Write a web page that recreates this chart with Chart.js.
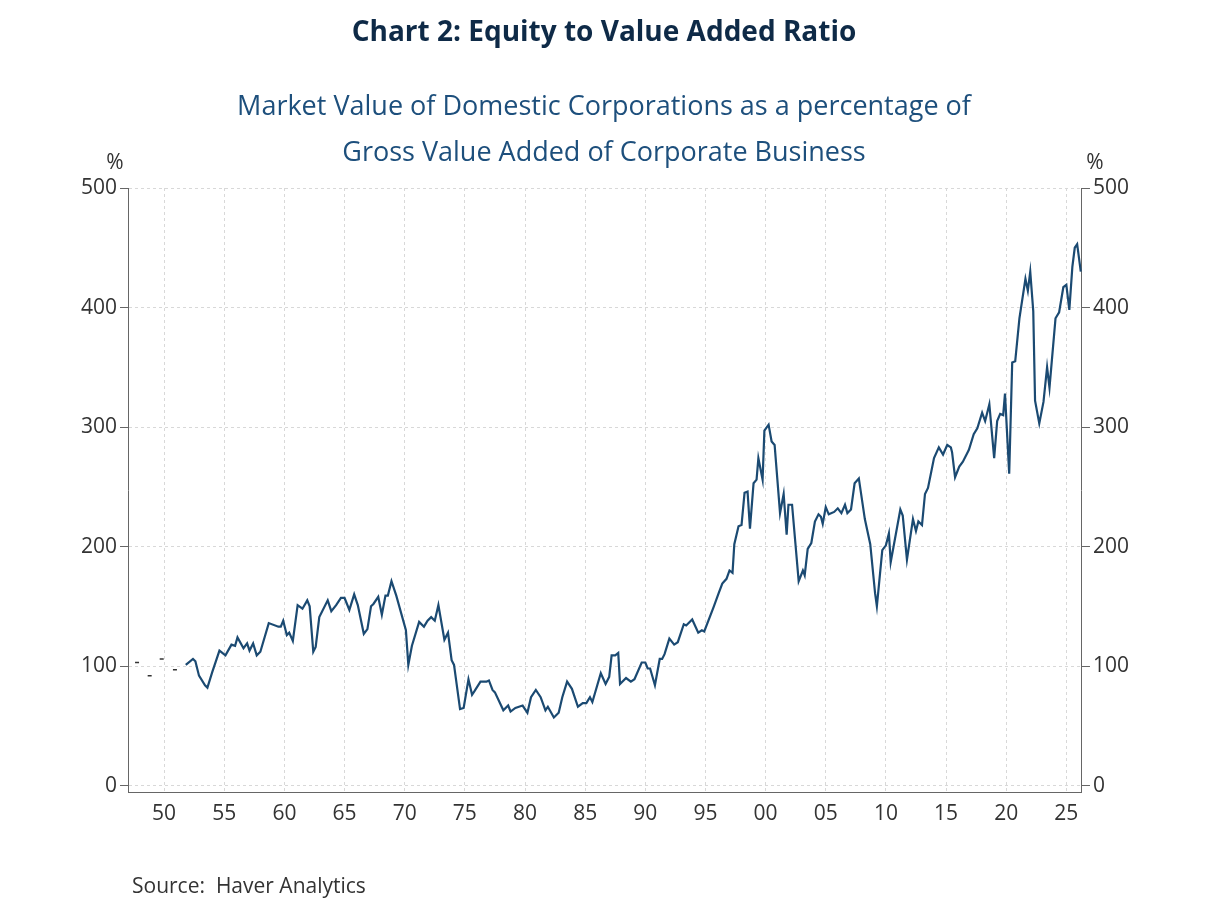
<!DOCTYPE html>
<html>
<head>
<meta charset="utf-8">
<script src="https://cdn.jsdelivr.net/npm/chart.js@4"></script>
<style>
  body { margin: 0; background: #fff; }
  #wrap { position: relative; width: 1208px; height: 906px; }
  canvas { position: absolute; left: 0; top: 0; }
</style>
</head>
<body>
<div id="wrap"><canvas id="equityChart" width="1208" height="906"></canvas></div>
<script>
// quarterly-ish readings: [year, percent]
const years = [
  1951.8, 1952.4, 1952.6, 1952.9, 1953.4, 1953.6, 1954.0, 1954.6, 1955.1, 1955.6, 1955.9, 1956.1,
  1956.6, 1956.9, 1957.1, 1957.4, 1957.7, 1958.0, 1958.7, 1959.5, 1959.7, 1959.9, 1960.2, 1960.4,
  1960.7, 1961.1, 1961.5, 1961.9, 1962.1, 1962.4, 1962.6, 1962.9, 1963.6, 1963.9, 1964.3, 1964.7,
  1965.0, 1965.4, 1965.8, 1966.1, 1966.6, 1966.9, 1967.2, 1967.4, 1967.8, 1968.1, 1968.4, 1968.6,
  1968.9, 1969.3, 1970.1, 1970.3, 1970.6, 1971.2, 1971.6, 1971.9, 1972.2, 1972.5, 1972.8, 1973.3,
  1973.6, 1973.9, 1974.1, 1974.6, 1974.9, 1975.3, 1975.6, 1975.8, 1976.3, 1976.8, 1977.0, 1977.3,
  1977.5, 1978.2, 1978.6, 1978.8, 1979.2, 1979.5, 1979.8, 1980.2, 1980.5, 1980.9, 1981.3, 1981.7,
  1981.9, 1982.4, 1982.8, 1983.1, 1983.5, 1983.9, 1984.4, 1984.8, 1985.1, 1985.4, 1985.6, 1986.3,
  1986.7, 1987.0, 1987.2, 1987.5, 1987.75, 1987.9, 1988.4, 1988.8, 1989.1, 1989.7, 1990.0, 1990.2,
  1990.4, 1990.8, 1991.2, 1991.4, 1991.6, 1992.0, 1992.4, 1992.7, 1993.2, 1993.4, 1993.9, 1994.4,
  1994.7, 1994.9, 1995.7, 1996.1, 1996.4, 1996.75, 1997.0, 1997.25, 1997.4, 1997.75, 1998.0, 1998.25,
  1998.5, 1998.7, 1999.0, 1999.25, 1999.4, 1999.75, 1999.9, 2000.25, 2000.5, 2000.75, 2001.2, 2001.5,
  2001.75, 2001.9, 2002.2, 2002.75, 2003.1, 2003.25, 2003.5, 2003.8, 2004.1, 2004.4, 2004.6, 2004.75,
  2005.0, 2005.25, 2005.7, 2006.0, 2006.3, 2006.6, 2006.8, 2007.1, 2007.4, 2007.75, 2008.25, 2008.7,
  2009.1, 2009.25, 2009.7, 2010.0, 2010.25, 2010.4, 2011.2, 2011.4, 2011.75, 2012.25, 2012.5, 2012.7,
  2013.0, 2013.25, 2013.5, 2014.0, 2014.4, 2014.75, 2015.1, 2015.4, 2015.5, 2015.75, 2016.1, 2016.4,
  2016.9, 2017.3, 2017.6, 2018.0, 2018.25, 2018.6, 2019.0, 2019.25, 2019.5, 2019.75, 2019.9, 2020.25,
  2020.5, 2020.75, 2021.1, 2021.6, 2021.8, 2022.0, 2022.25, 2022.4, 2022.75, 2023.1, 2023.4, 2023.6,
  2024.1, 2024.4, 2024.75, 2025.0, 2025.25, 2025.5, 2025.7, 2025.9, 2026.2
];
const ratio = [
  101, 106, 104, 92, 84, 82, 95, 113, 109, 118, 117, 124,
  115, 119, 113, 119, 109, 112, 136, 133, 133, 138, 126, 128,
  121, 151, 148, 155, 150, 112, 116, 141, 155, 146, 151, 157,
  157, 147, 160, 151, 127, 131, 150, 152, 158, 143, 159, 159,
  171, 159, 130, 101, 117, 137, 133, 138, 141, 138, 151, 122,
  128, 105, 101, 64, 65, 89, 76, 79, 87, 87, 88, 80,
  78, 63, 67, 62, 65, 66, 67, 61, 74, 80, 74, 63,
  66, 57, 61, 74, 87, 81, 66, 69, 69, 74, 70, 94,
  85, 91, 109, 109, 111, 85, 90, 87, 89, 103, 103, 98,
  98, 84, 106, 106, 110, 123, 118, 120, 135, 134, 139, 128,
  130, 129, 150, 161, 169, 173, 180, 178, 202, 217, 218, 245,
  246, 215, 253, 256, 274, 256, 297, 302, 288, 285, 228, 244,
  210, 235, 235, 171, 180, 176, 198, 203, 221, 227, 225, 219,
  233, 227, 229, 232, 228, 235, 228, 231, 253, 257, 223, 202,
  161, 150, 197, 201, 211, 187, 231, 226, 189, 223, 213, 221,
  218, 244, 249, 274, 283, 277, 285, 283, 279, 258, 267, 271,
  281, 294, 299, 312, 305, 319, 274, 305, 311, 310, 328, 261,
  354, 355, 391, 424, 414, 430, 397, 322, 303, 321, 350, 333,
  391, 396, 417, 419, 398, 434, 450, 453, 430
];
// isolated early readings shown as dashes
const earlyYears = [1947.75, 1948.8, 1949.8, 1950.9];
const earlyRatio = [103, 92, 106, 97];

const yTicks = [0, 100, 200, 300, 400, 500];
const xTicks = [1950, 1955, 1960, 1965, 1970, 1975, 1980, 1985, 1990, 1995, 2000, 2005, 2010, 2015, 2020, 2025];

const navy = '#1b4a72';
const tickFont = { family: "'Open Sans', 'Noto Sans', sans-serif", size: 21 };

const textPlugin = {
    id: 'texts',
    afterDraw(chart) {
        const ctx = chart.ctx;
        ctx.save();
        ctx.textAlign = 'center';
        ctx.textBaseline = 'middle';
        ctx.fillStyle = '#0e2a47';
        ctx.font = "bold 28px 'Open Sans', 'Noto Sans', sans-serif";
        ctx.fillText('Chart 2: Equity to Value Added Ratio', 604, 33);
        ctx.fillStyle = '#1d4f7c';
        ctx.font = "27px 'Open Sans', 'Noto Sans', sans-serif";
        ctx.fillText('Market Value of Domestic Corporations as a percentage of', 604, 107);
        ctx.fillText('Gross Value Added of Corporate Business', 604, 153);
        ctx.fillStyle = '#333';
        ctx.font = "21px 'Open Sans', 'Noto Sans', sans-serif";
        ctx.fillText('%', 115, 163);
        ctx.fillText('%', 1095, 163);
        ctx.textAlign = 'left';
        ctx.fillText('Source:  Haver Analytics', 132, 887);
        ctx.restore();
    }
};

const fixedTicks = (vals) => (scale) => { scale.ticks = vals.map(v => ({ value: v })); };

new Chart(document.getElementById('equityChart'), {
    type: 'scatter',
    data: {
        datasets: [{
            data: years.map((x, i) => ({ x: x, y: ratio[i] })),
            showLine: true,
            borderColor: navy,
            borderWidth: 2.2,
            pointRadius: 0,
            tension: 0
        }, {
            data: earlyYears.map((x, i) => ({ x: x, y: earlyRatio[i] })),
            showLine: false,
            pointStyle: 'line',
            pointRadius: 2,
            borderColor: '#333',
            borderWidth: 1.5
        }]
    },
    options: {
        responsive: false,
        animation: false,
        layout: { padding: { top: 188, left: 78, right: 76, bottom: 76 } },
        plugins: { legend: { display: false }, tooltip: { enabled: false } },
        scales: {
            x: {
                type: 'linear',
                min: 1947,
                max: 2026.3,
                afterBuildTicks: fixedTicks(xTicks),
                grid: { color: '#d8d8d8', tickLength: 6, tickColor: '#fff' },
                border: { color: '#666', dash: [3, 3] },
                ticks: {
                    color: '#333',
                    font: tickFont,
                    autoSkip: false,
                    maxRotation: 0,
                    callback: (v) => String(v % 100).padStart(2, '0')
                }
            },
            y: {
                position: 'left',
                min: -6,
                max: 500,
                afterBuildTicks: fixedTicks(yTicks),
                grid: { color: '#d8d8d8', tickLength: 8, tickColor: '#666' },
                border: { color: '#666', dash: [3, 3] },
                ticks: { color: '#333', font: tickFont }
            },
            y2: {
                position: 'right',
                min: -6,
                max: 500,
                afterBuildTicks: fixedTicks(yTicks),
                grid: { drawOnChartArea: false, tickLength: 8, tickColor: '#666' },
                border: { color: '#666' },
                ticks: { color: '#333', font: tickFont }
            }
        }
    },
    plugins: [textPlugin]
});
</script>
</body>
</html>
